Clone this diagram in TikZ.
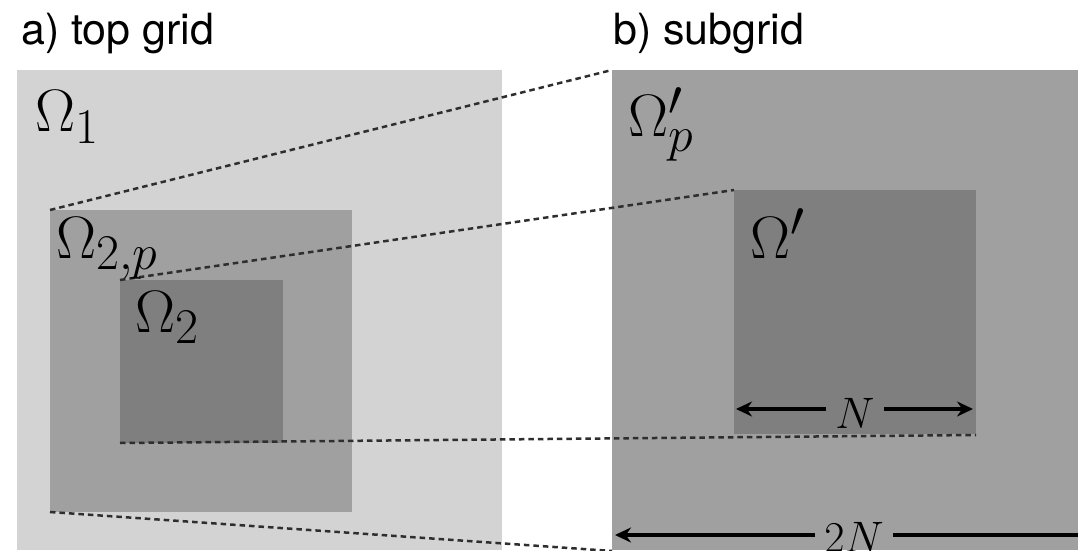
\documentclass[tikz,border=0pt]{standalone}
\usepackage{graphicx}
\usepackage{fontspec}
\newfontfamily\helv{TeX Gyre Heros}
\usetikzlibrary{arrows.meta}
\definecolor{lightg}{HTML}{D3D3D3}
\definecolor{midg}{HTML}{A0A0A0}
\definecolor{darkg}{HTML}{7F7F7F}
\definecolor{dashc}{HTML}{2E2E2E}
\newcommand{\omtext}[1]{\scalebox{2.41}{\fontsize{24.88}{30}\selectfont$#1$}}
\newcommand{\dimtext}[1]{\scalebox{1.77}{\fontsize{24.88}{30}\selectfont$#1$}}
\tikzset{
  zoomline/.style={draw=dashc, line width=2.5pt, dash pattern=on 5.5pt off 4pt},
  dimarrow/.style={line width=3.3pt, -{Stealth[length=16pt,width=15pt]}},
  title/.style={anchor=base west, inner sep=0pt, font=\helv\fontsize{43}{50}\selectfont},
  omlabel/.style={anchor=base west, inner sep=0pt},
  dimlabel/.style={anchor=base, inner sep=9pt},
}
\begin{document}
\begin{tikzpicture}[x=1pt,y=1pt]
\useasboundingbox (0,0) rectangle (1078,550);
\clip (0,0) rectangle (1078,550);
% left panel
\fill[lightg] (17,0) rectangle (502,480);
\fill[midg] (50,38) rectangle (352,340);
\fill[darkg] (120,107) rectangle (283,270);
% right panel
\fill[midg] (612,0) rectangle (1078,480);
\fill[darkg] (734,116) rectangle (976,360);
% corner coordinates
\coordinate (A1) at (50,340);
\coordinate (A2) at (120,270);
\coordinate (A3) at (120,107);
\coordinate (A4) at (50,38);
\coordinate (B1) at (612,480);
\coordinate (B2) at (734,360);
\coordinate (B3) at (976,115);
\coordinate (B4) at (612,-1);
\draw[zoomline] (A1) -- (B1);
\draw[zoomline] (A2) -- (B2);
\draw[zoomline] (A3) -- (B3);
\draw[zoomline] (A4) -- (B4);
% titles
\node[title] (ta) at (21,505) {a) top grid};
\node[title] (tb) at (613,505) {b) subgrid};
% region labels
\node[omlabel] (o1) at (35,418) {\omtext{\Omega_1}};
\node[omlabel] (o2p) at (56,292) {\omtext{\Omega_{2,p}}};
\node[omlabel] (o2) at (135,218) {\omtext{\Omega_2}};
\node[omlabel] (opp) at (628,413) {\omtext{\Omega'_p}};
\node[omlabel] (op) at (750,292) {\omtext{\Omega'}};
% N arrow
\coordinate (NL) at (736,141);
\coordinate (NR) at (973,141);
\node[dimlabel] (N) at (855,122) {\dimtext{N}};
\draw[dimarrow] (N.west |- NL) -- (NL);
\draw[dimarrow] (N.east |- NR) -- (NR);
% 2N arrow
\coordinate (ML) at (615,15);
\coordinate (MR) at (1090,15);
\node[dimlabel] (M) at (854,-2) {\dimtext{2N}};
\draw[dimarrow] (M.west |- ML) -- (ML);
\draw[line width=3.3pt] (M.east |- MR) -- (MR);
\end{tikzpicture}
\end{document}
